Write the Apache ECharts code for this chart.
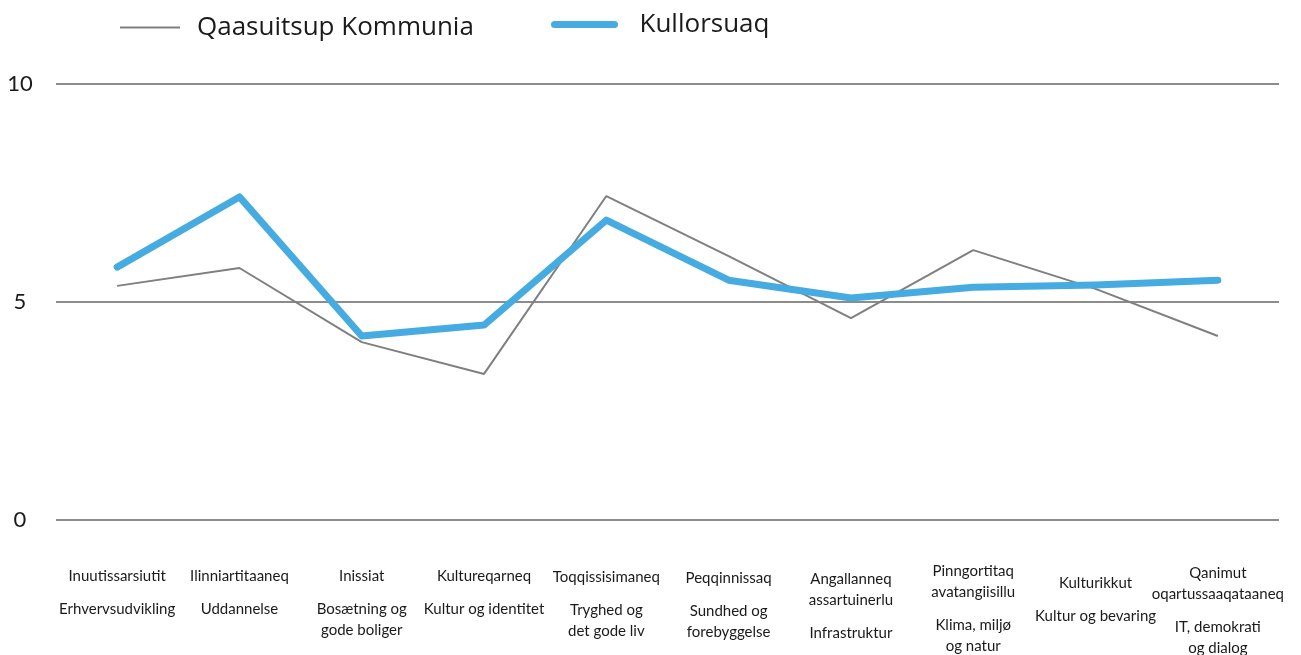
<!DOCTYPE html>
<html>
<head>
<meta charset="utf-8">
<script src="https://cdn.jsdelivr.net/npm/echarts@6/dist/echarts.min.js"></script>
<style>
  html, body { margin: 0; padding: 0; background: #fff; }
  #chart { width: 1301px; height: 655px; }
</style>
</head>
<body>
<div id="chart"></div>
<script>
// Greenlandic labels (top) and Danish labels (below)
const labelsKl = [
    'Inuutissarsiutit', 'Ilinniartitaaneq', 'Inissiat', 'Kultureqarneq', 'Toqqissisimaneq',
    'Peqqinnissaq', 'Angallanneq\nassartuinerlu', 'Pinngortitaq\navatangiisillu', 'Kulturikkut',
    'Qanimut\noqartussaaqataaneq'
];
const labelsDa = [
    'Erhvervsudvikling', 'Uddannelse', 'Bosætning og\ngode boliger', 'Kultur og identitet', 'Tryghed og\ndet gode liv',
    'Sundhed og\nforebyggelse', 'Infrastruktur', 'Klima, miljø\nog natur', 'Kultur og bevaring',
    'IT, demokrati\nog dialog'
];
const seriesNames = ['Qaasuitsup Kommunia', 'Kullorsuaq'];
const kommuniaValues = [5.37, 5.78, 4.08, 3.35, 7.43, 6.05, 4.63, 6.19, 5.3, 4.22];
const kullorsuaqValues = [5.8, 7.41, 4.22, 4.47, 6.88, 5.5, 5.09, 5.34, 5.39, 5.5];
const yTicks = [0, 5, 10];

// small vertical shift of each label block (layout only)
const labelShift = [16, 16, 16, 16, 17, 18, 19, 11, 23, 13];

const font = 'Lato';
const legendFont = 'Open Sans';
const rich = {
    g: { fontFamily: font, fontSize: 15, lineHeight: 21, color: '#1a1a1a' },
    d: { fontFamily: font, fontSize: 15, lineHeight: 21, color: '#1a1a1a' },
    gap: { fontSize: 4, lineHeight: 12 }
};
labelShift.forEach((h, i) => {
    rich['s' + i] = { fontSize: 4, lineHeight: h };
});

const wrap = (style, text) => text.split('\n').map(t => `{${style}|${t}}`).join('\n');

const chart = echarts.init(document.getElementById('chart'));
chart.setOption({
    animation: false,
    grid: { left: 56, right: 22, top: 84, bottom: 135, outerBoundsMode: 'none', containLabel: false },
    legend: [
        {
            data: [seriesNames[0]],
            left: 114,
            top: 8,
            itemWidth: 60,
            itemHeight: 36,
            itemStyle: { opacity: 0 },
            lineStyle: { width: 2 },
            textStyle: { fontFamily: legendFont, fontSize: 26, color: '#1a1a1a', padding: [0, 0, 0, 12] }
        },
        {
            data: [seriesNames[1]],
            left: 546,
            top: 5,
            itemWidth: 60,
            itemHeight: 36,
            itemStyle: { opacity: 0 },
            lineStyle: { width: 7, cap: 'round' },
            textStyle: { fontFamily: legendFont, fontSize: 26, color: '#1a1a1a', padding: [0, 0, 0, 20] }
        }
    ],
    xAxis: {
        type: 'category',
        data: labelsKl,
        axisLine: { show: false },
        axisTick: { show: false },
        axisLabel: {
            interval: 0,
            margin: 30,
            verticalAlign: 'top',
            formatter: (value, idx) =>
                `{s${idx}| }\n` + wrap('g', labelsKl[idx]) + '\n{gap| }\n' + wrap('d', labelsDa[idx]),
            rich: rich
        }
    },
    yAxis: {
        type: 'value',
        min: yTicks[0],
        max: yTicks[yTicks.length - 1],
        interval: 5,
        axisLine: { show: false },
        axisTick: { show: false },
        axisLabel: {
            margin: 36,
            align: 'center',
            fontFamily: font,
            fontSize: 22,
            color: '#1a1a1a'
        },
        splitLine: { lineStyle: { color: '#8c8c8c', width: 2 } }
    },
    series: [
        {
            name: seriesNames[0],
            type: 'line',
            data: kommuniaValues,
            symbol: 'none',
            color: '#7f7f7f',
            lineStyle: { width: 2, color: '#7f7f7f' },
            z: 2
        },
        {
            name: seriesNames[1],
            type: 'line',
            data: kullorsuaqValues,
            symbol: 'none',
            color: '#45abe0',
            lineStyle: { width: 7, color: '#45abe0', cap: 'round', join: 'round' },
            z: 3
        }
    ]
});
</script>
</body>
</html>
